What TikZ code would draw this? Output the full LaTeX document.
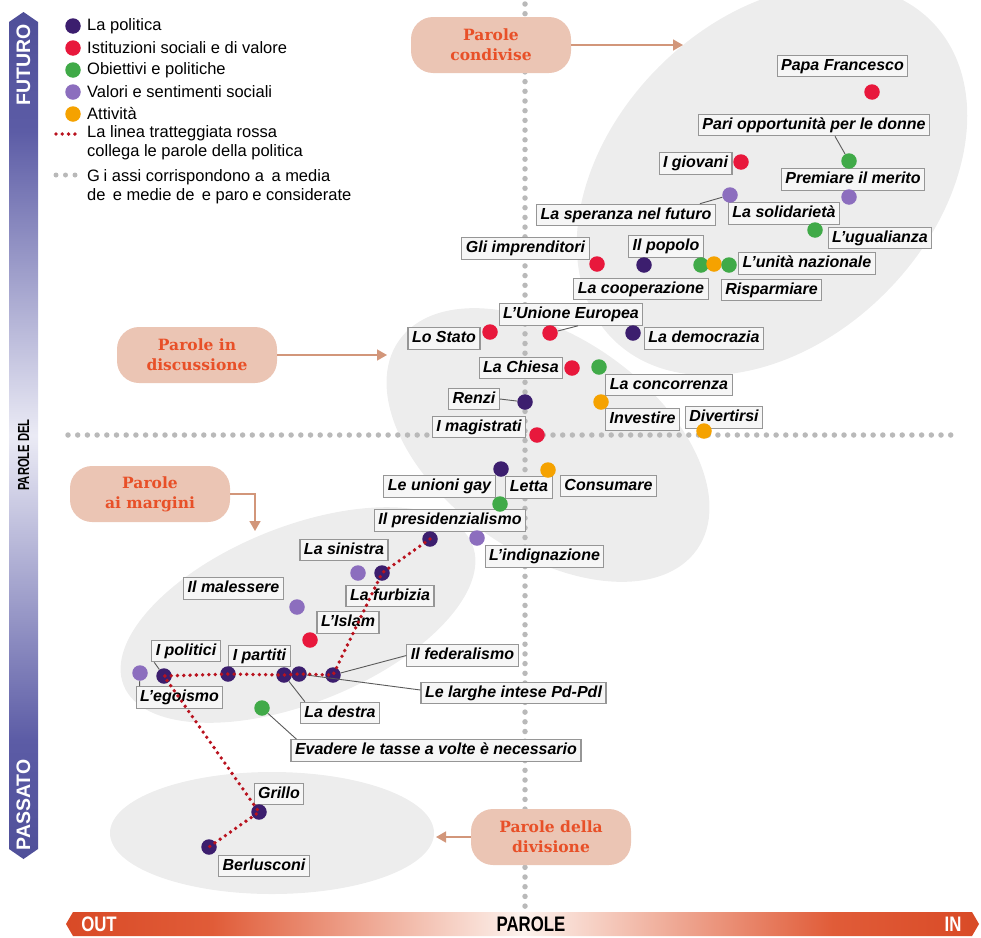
\documentclass[tikz,border=0pt]{standalone}
\usepackage{fontspec}
\setmainfont{Liberation Sans}
\newfontfamily\lblfam{Liberation Sans}
\newfontfamily\pillfam{DejaVu Serif}
\newfontfamily\condfam[FakeStretch=0.8]{Liberation Sans}
\newfontfamily\narrowfam[FakeStretch=0.7]{Liberation Sans}
\usetikzlibrary{arrows.meta}
\definecolor{cpol}{RGB}{60,30,110}
\definecolor{cist}{RGB}{232,24,60}
\definecolor{cobi}{RGB}{64,170,72}
\definecolor{cval}{RGB}{140,110,190}
\definecolor{catt}{RGB}{245,162,0}
\definecolor{cblob}{RGB}{237,237,237}
\definecolor{cboxf}{RGB}{246,246,246}
\definecolor{cboxd}{RGB}{150,150,150}
\definecolor{caxis}{RGB}{185,185,185}
\definecolor{cred}{RGB}{185,18,30}
\definecolor{cpill}{RGB}{235,197,180}
\definecolor{cpilltext}{RGB}{232,80,40}
\definecolor{carrow}{RGB}{210,150,122}
\definecolor{clead}{RGB}{90,90,90}
\newcommand{\mylblfont}{\lblfam\bfseries\itshape\fontsize{16}{18}\selectfont}
\newcommand{\mypillfont}{\pillfam\bfseries\fontsize{15.5}{20}\selectfont}
\newcommand{\mylegfont}{\fontsize{16.5}{19}\selectfont}
\pgfdeclareverticalshading{vbar}{100bp}{rgb(0bp)=(0.31,0.31,0.60); rgb(25bp)=(0.31,0.31,0.60); rgb(32bp)=(0.36,0.36,0.65); rgb(50bp)=(0.92,0.92,0.96); rgb(68bp)=(0.36,0.36,0.65); rgb(75bp)=(0.31,0.31,0.60); rgb(100bp)=(0.31,0.31,0.60)}
\pgfdeclarehorizontalshading{hbar}{100bp}{rgb(0bp)=(0.85,0.29,0.15); rgb(25bp)=(0.85,0.29,0.15); rgb(33bp)=(0.88,0.36,0.22); rgb(50bp)=(0.99,0.95,0.93); rgb(67bp)=(0.88,0.36,0.22); rgb(75bp)=(0.85,0.29,0.15); rgb(100bp)=(0.85,0.29,0.15)}
\tikzset{
 lbl/.style={draw=cboxd, fill=cboxf, line width=1.1pt, inner xsep=4pt, inner ysep=3pt, text height=12pt, text depth=3.5pt, font=\mylblfont},
 mydot/.style={circle, inner sep=0pt, minimum size=15.5pt, fill=#1, draw=none},
 lead/.style={draw=clead, line width=0.9pt},
 pill/.style={fill=cpill, rounded corners=22pt, minimum width=160pt, minimum height=56pt, align=center, text=cpilltext, font=\mypillfont, inner sep=0pt},
 parrow/.style={draw=carrow, line width=1.6pt, -{Triangle[length=10pt,width=11pt]}},
 axisdots/.style={draw=caxis, line width=5.5pt, line cap=round, dash pattern=on 0pt off 9.7pt},
 legdots/.style={draw=caxis, line width=5pt, line cap=round, dash pattern=on 0pt off 9.5pt},
 redpath/.style={draw=cred, line width=3.8pt, line cap=round, dash pattern=on 0pt off 6.3pt},
 legtext/.style={anchor=west, inner sep=0pt, font=\mylegfont, align=left},
}
\begin{document}
\begin{tikzpicture}[x=1pt,y=-1pt]
\useasboundingbox (0,0) rectangle (981,937);
% background blobs
\fill[cblob, rotate around={45:(772,180)}] (772,180) ellipse [x radius=225, y radius=160];
\fill[cblob, rotate around={-35:(548,445)}] (548,445) ellipse [x radius=182, y radius=108];
\fill[cblob, rotate around={22:(298,615)}] (298,615) ellipse [x radius=188, y radius=88];
\fill[cblob] (272,833) ellipse [x radius=162, y radius=61];
% axes
\coordinate (vtop) at (525,4);
\coordinate (vbot) at (525,907);
\coordinate (hl) at (68,435);
\coordinate (hr) at (955,435);
\draw[axisdots] (vtop) -- (vbot);
\draw[axisdots] (hl) -- (hr);
% pills
\node[pill] (pc) at (491,45) {Parole\\condivise};
\coordinate (pcT) at (683,45);
\draw[parrow] (pc.east) -- (pcT);
\node[pill] (pd) at (197,355) {Parole in\\discussione};
\coordinate (pdT) at (387,355);
\draw[parrow] (pd.east) -- (pdT);
\node[pill] (pm) at (150,494) {Parole\\ai margini};
\coordinate (pmT) at (255,531);
\draw[parrow] (pm.east) -| (pmT);
\node[pill] (pv) at (551,837) {Parole della\\divisione};
\coordinate (pvT) at (436,837);
\draw[parrow] (pv.west) -- (pvT);
% legend
\node[mydot=cpol] (lg1) at (73,26) {};
\node[legtext] (lt1) at (87,26) {La politica};
\node[mydot=cist] (lg2) at (73,48) {};
\node[legtext] (lt2) at (87,48) {Istituzioni sociali e di valore};
\node[mydot=cobi] (lg3) at (73,70) {};
\node[legtext] (lt3) at (87,70) {Obiettivi e politiche};
\node[mydot=cval] (lg4) at (73,92) {};
\node[legtext] (lt4) at (87,92) {Valori e sentimenti sociali};
\node[mydot=catt] (lg5) at (73,114) {};
\node[legtext] (lt5) at (87,114) {Attività};
\coordinate (lr1) at (56,134);
\coordinate (lr2) at (78,134);
\draw[redpath] (lr1) -- (lr2);
\node[legtext] (lt6) at (87,143) {La linea tratteggiata rossa\\collega le parole della politica};
\coordinate (lq1) at (56,175);
\coordinate (lq2) at (76,175);
\draw[legdots] (lq1) -- (lq2);
\node[legtext] (lt7) at (87,187) {G\phantom{l}i assi corrispondono a\phantom{ll}a media\\de\phantom{ll}e medie de\phantom{ll}e paro\phantom{l}e considerate};
% labels
\node[lbl] (lpapa) at (842.5,66) {Papa Francesco};
\node[lbl] (lpari) at (814,125) {Pari opportunità per le donne};
\node[lbl] (lgio) at (695.5,163.5) {I giovani};
\node[lbl] (lmer) at (853,179.5) {Premiare il merito};
\node[lbl] (lspe) at (626,215) {La speranza nel futuro};
\node[lbl] (lsol) at (784,213.5) {La solidarietà};
\node[lbl] (lugu) at (880,238) {L’ugualianza};
\node[lbl] (luni) at (807,263.5) {L’unità nazionale};
\node[lbl] (lris) at (771.5,290) {Risparmiare};
\node[lbl] (lpop) at (666,246.5) {Il popolo};
\node[lbl] (lcoo) at (641,289) {La cooperazione};
\node[lbl] (limp) at (525.5,248.5) {Gli imprenditori};
\node[lbl] (lue) at (571,314.5) {L’Unione Europea};
\node[lbl] (lsta) at (444,338.5) {Lo Stato};
\node[lbl] (ldem) at (704,338.5) {La democrazia};
\node[lbl] (lchi) at (521,368) {La Chiesa};
\node[lbl] (lcon) at (669,385) {La concorrenza};
\node[lbl] (linv) at (642.5,419.5) {Investire};
\node[lbl] (ldiv) at (724,417.5) {Divertirsi};
\node[lbl] (lren) at (474,399) {Renzi};
\node[lbl] (lmag) at (479,427) {I magistrati};
\node[lbl] (lgay) at (439.5,486.5) {Le unioni gay};
\node[lbl] (llet) at (529,487.5) {Letta};
\node[lbl] (lcons) at (608.5,486) {Consumare};
\node[lbl] (lpre) at (450,520.5) {Il presidenzialismo};
\node[lbl] (lind) at (544.5,556.5) {L’indignazione};
\node[lbl] (lsin) at (344,550) {La sinistra};
\node[lbl] (lfur) at (390,596) {La furbizia};
\node[lbl] (lmal) at (233.5,588.5) {Il malessere};
\node[lbl] (lisl) at (348,622.5) {L’Islam};
\node[lbl] (lpol) at (186,651) {I politici};
\node[lbl] (lego) at (179.5,697.5) {L’egoismo};
\node[lbl] (lpar) at (259.5,656) {I partiti};
\node[lbl] (ldes) at (340,713) {La destra};
\node[lbl] (lfed) at (462.5,655.5) {Il federalismo};
\node[lbl] (lint) at (513.5,693) {Le larghe intese Pd-Pdl};
\node[lbl] (leva) at (436,750.5) {Evadere le tasse a volte è necessario};
\node[lbl] (lgri) at (279,794) {Grillo};
\node[lbl] (lber) at (264,866) {Berlusconi};
% dots
\node[mydot=cist] (dpapa) at (872,92) {};
\node[mydot=cobi] (dpari) at (849,161) {};
\node[mydot=cist] (dgio) at (741,162) {};
\node[mydot=cval] (dsol) at (849,197) {};
\node[mydot=cval] (dspe) at (730,195) {};
\node[mydot=cobi] (dugu) at (815,230) {};
\node[mydot=cobi] (dg1) at (701,265) {};
\node[mydot=catt] (do1) at (714,264) {};
\node[mydot=cobi] (dg2) at (729,265) {};
\node[mydot=cpol] (dpop) at (644,265) {};
\node[mydot=cist] (dimp) at (597,264) {};
\node[mydot=cist] (dsta) at (490,332) {};
\node[mydot=cist] (due) at (550,333) {};
\node[mydot=cpol] (ddem) at (633,333) {};
\node[mydot=cist] (dchi) at (572,368) {};
\node[mydot=cobi] (dcon) at (599,367) {};
\node[mydot=catt] (dinv) at (601,402) {};
\node[mydot=catt] (ddiv) at (704,431) {};
\node[mydot=cpol] (dren) at (525,402) {};
\node[mydot=cist] (dmag) at (537,435) {};
\node[mydot=cpol] (dlet) at (501,469) {};
\node[mydot=catt] (dcons) at (548,470) {};
\node[mydot=cobi] (dgay) at (500,504) {};
\node[mydot=cpol] (dpre) at (430,539) {};
\node[mydot=cval] (dind) at (477,538) {};
\node[mydot=cval] (dsin) at (358,573) {};
\node[mydot=cpol] (dfur) at (382,573) {};
\node[mydot=cval] (dmal) at (297,607) {};
\node[mydot=cist] (disl) at (310,640) {};
\node[mydot=cpol] (dpol) at (164,676) {};
\node[mydot=cval] (dego) at (140,673) {};
\node[mydot=cpol] (dpar) at (228,674) {};
\node[mydot=cpol] (ddes) at (284,675) {};
\node[mydot=cpol] (dint) at (299,674) {};
\node[mydot=cpol] (dfed) at (333,675) {};
\node[mydot=cobi] (deva) at (262,708) {};
\node[mydot=cpol] (dgri) at (259,812) {};
\node[mydot=cpol] (dber) at (209,847) {};
% leaders
\draw[lead] ([xshift=21pt]lpari.south) -- (dpari);
\draw[lead] ([xshift=-16pt]lspe.north east) -- (dspe);
\draw[lead] ([xshift=7pt]lue.south) -- (due);
\draw[lead] (lren.east) -- (dren);
\draw[lead] ([xshift=3pt]lpol.south west) -- (dpol);
\draw[lead] (dego) -- ([xshift=4pt]lego.north west);
\draw[lead] (ddes) -- ([xshift=5pt]ldes.north west);
\draw[lead] (dfed) -- (lfed.west);
\draw[lead] (dint) -- ([yshift=3pt]lint.west);
\draw[lead] (deva) -- ([xshift=6pt]leva.north west);
% red dotted politics line
\draw[redpath] (dpre.center) -- (dfur.center) -- (dfed.center) -- (dint.center) -- (ddes.center) -- (dpar.center) -- (dpol.center) -- (dgri.center) -- (dber.center);
% left bar
\shade[shading=vbar] (9,22) -- (23.5,12) -- (38,22) -- (38,849) -- (23.5,859) -- (9,849) -- cycle;
\node[rotate=90, text=white, font=\bfseries\fontsize{19.5}{20}\selectfont, inner sep=0pt] (tfut) at (23.5,65) {FUTURO};
\node[rotate=90, text=black, font=\narrowfam\bfseries\fontsize{16}{18}\selectfont, inner sep=0pt] (tdel) at (23.5,455) {PAROLE DEL};
\node[rotate=90, text=white, font=\bfseries\fontsize{19.5}{20}\selectfont, inner sep=0pt] (tpas) at (23.5,805) {PASSATO};
% bottom bar
\shade[shading=hbar] (66,924) -- (73,912) -- (972,912) -- (979,924) -- (972,936) -- (73,936) -- cycle;
\node[text=white, font=\condfam\bfseries\fontsize{21}{22}\selectfont, inner sep=0pt] (tout) at (99,924) {OUT};
\node[text=black, font=\condfam\bfseries\fontsize{21}{22}\selectfont, inner sep=0pt] (tpar) at (531,924) {PAROLE};
\node[text=white, font=\condfam\bfseries\fontsize{21}{22}\selectfont, inner sep=0pt] (tin) at (953,924) {IN};
\end{tikzpicture}
\end{document}
